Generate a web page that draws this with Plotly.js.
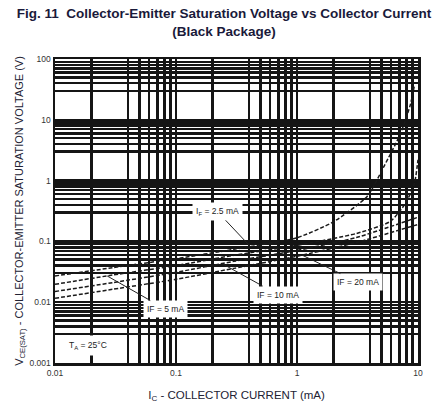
<!DOCTYPE html>
<html>
<head>
<meta charset="utf-8">
<script src="https://cdn.plot.ly/plotly-3.0.1.min.js"></script>
<style>html,body{margin:0;padding:0;background:#fff;}#chart{width:448px;height:403px;}</style>
</head>
<body>
<div id="chart"></div>
<script>
// Collector current (mA) and saturation voltage (V)
const ic_if2p5 = [0.01, 0.03, 0.1, 0.3, 1, 2, 3.8, 5.3, 7.1, 8.6, 9.3];
const vce_if2p5 = [0.027, 0.037, 0.052, 0.074, 0.115, 0.21, 0.55, 1.8, 5.7, 17, 35];
const ic_if5 = [0.01, 0.03, 0.1, 0.3, 1, 3.1, 5.9, 7.8, 9.3, 10];
const vce_if5 = [0.0197, 0.028, 0.040, 0.059, 0.086, 0.135, 0.213, 0.41, 0.86, 2.2];
const ic_if10 = [0.01, 0.03, 0.1, 0.3, 1, 3.1, 10];
const vce_if10 = [0.015, 0.021, 0.031, 0.047, 0.071, 0.116, 0.25];
const ic_if20 = [0.01, 0.03, 0.1, 0.3, 1, 3.1, 10];
const vce_if20 = [0.0116, 0.0163, 0.0238, 0.036, 0.057, 0.096, 0.19];

const xTickVals = [0.01, 0.1, 1, 10];
const xTickText = ['0.01', '0.1', '1', '10'];
const yTickVals = [0.001, 0.01, 0.1, 1, 10, 100];
const yTickText = ['0.001', '0.01', '0.1', '1', '10', '100'];
const xMinorDigits = [2, 4, 5, 6, 7, 8, 9];
const yMinorDigits = [3, 4, 5, 6, 7, 8, 9];

const labels = [
  {text: 'I<sub>F</sub> = 2.5 mA', x: 0.41, y: 0.083, ax: -33, ay: -35},
  {text: 'IF = 5 mA', x: 0.027, y: 0.027, ax: 58, ay: 33},
  {text: 'IF = 10 mA', x: 0.24, y: 0.0432, ax: 56, ay: 31},
  {text: 'IF = 20 mA', x: 1.1, y: 0.0596, ax: 56, ay: 27}
];

const xMinor = [];
[0.01, 0.1, 1].forEach(d => xMinorDigits.forEach(k => xMinor.push(+(d * k).toPrecision(3))));
const yMinor = [];
[0.001, 0.01, 0.1, 1, 10].forEach(d => yMinorDigits.forEach(k => yMinor.push(+(d * k).toPrecision(3))));

const lineStyle = {color: '#1a1a1a', width: 1.5, dash: '4px,2px', shape: 'spline', smoothing: 0.6};
const traces = [
  {x: ic_if2p5, y: vce_if2p5, name: 'IF = 2.5 mA'},
  {x: ic_if5, y: vce_if5, name: 'IF = 5 mA'},
  {x: ic_if10, y: vce_if10, name: 'IF = 10 mA'},
  {x: ic_if20, y: vce_if20, name: 'IF = 20 mA'}
].map(t => Object.assign(t, {type: 'scatter', mode: 'lines', line: lineStyle, hoverinfo: 'skip'}));

const gridColor = '#151515';
const annFont = {family: 'Liberation Sans, Arial, sans-serif', size: 8.5, color: '#222'};
const annotations = labels.map(l => ({
  x: Math.log10(l.x), y: Math.log10(l.y), xref: 'x', yref: 'y',
  text: l.text, showarrow: true, arrowhead: 0, arrowwidth: 1, arrowcolor: '#222',
  ax: l.ax, ay: l.ay, bgcolor: '#fff', borderpad: 3, font: annFont
}));
annotations.push({
  x: -1.727, y: -2.705, xref: 'x', yref: 'y', showarrow: false,
  text: 'T<sub>A</sub> = 25°C', bgcolor: '#fff', borderpad: 4, font: annFont
});

const layout = {
  width: 448, height: 403,
  margin: {l: 55, r: 30, t: 59, b: 40},
  paper_bgcolor: '#fff', plot_bgcolor: '#fff',
  showlegend: false,
  font: {family: 'Liberation Sans, Arial, sans-serif', color: '#222'},
  title: {
    text: '<b>Fig. 11  Collector-Emitter Saturation Voltage vs Collector Current<br>(Black Package)</b>',
    x: 0.5, xref: 'container', xanchor: 'center',
    y: 0.955, yref: 'container', yanchor: 'top',
    font: {size: 13.5, color: '#1a1a3a', family: 'Liberation Sans, Arial, sans-serif'}
  },
  xaxis: {
    type: 'log', range: [-2, 1],
    tickmode: 'array', tickvals: xTickVals, ticktext: xTickText,
    ticks: '', tickfont: {size: 8.5, color: '#333'},
    showgrid: true, gridcolor: gridColor, gridwidth: 2.5,
    minor: {tickmode: 'array', tickvals: xMinor, showgrid: true, gridcolor: gridColor, gridwidth: 2.5, ticks: ''},
    showline: true, linecolor: gridColor, linewidth: 2.5, mirror: true,
    zeroline: false,
    title: {text: 'I<sub>C</sub> - COLLECTOR CURRENT (mA)', font: {size: 11.5, color: '#223'}, standoff: 14}
  },
  yaxis: {
    type: 'log', range: [-3, 2],
    tickmode: 'array', tickvals: yTickVals, ticktext: yTickText,
    ticks: '', tickfont: {size: 8.5, color: '#333'},
    showgrid: true, gridcolor: gridColor, gridwidth: 2.5,
    minor: {tickmode: 'array', tickvals: yMinor, showgrid: true, gridcolor: gridColor, gridwidth: 2.5, ticks: ''},
    showline: true, linecolor: gridColor, linewidth: 2.5, mirror: true,
    zeroline: false,
    title: {text: 'V<sub>CE(SAT)</sub> - COLLECTOR-EMITTER SATURATION VOLTAGE (V)', font: {size: 11, color: '#223'}, standoff: 4}
  },
  annotations: annotations
};

Plotly.newPlot('chart', traces, layout, {displayModeBar: false, staticPlot: true});
</script>
</body>
</html>
